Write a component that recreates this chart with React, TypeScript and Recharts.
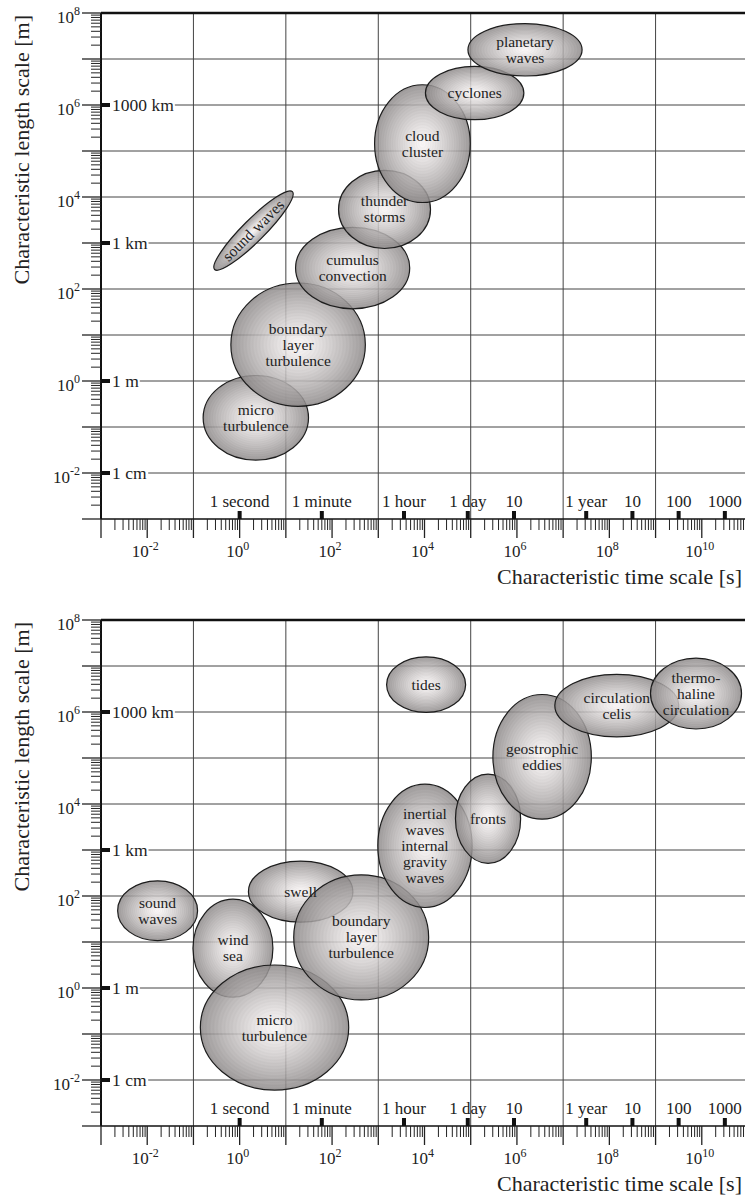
import React from "react";
import {
  ScatterChart,
  Scatter,
  XAxis,
  YAxis,
  CartesianGrid,
  ReferenceArea,
  ReferenceLine,
} from "recharts";

const FONT = "'Liberation Serif', 'Times New Roman', serif";
const INK = "#222";

// axis decades (log10 of seconds / metres)
const timeDecades = [-3, -2, -1, 0, 1, 2, 3, 4, 5, 6, 7, 8, 9, 10];
const timeDecadeLabels = [-2, 0, 2, 4, 6, 8, 10];
const timeGridDecades = [-1, 1, 3, 5, 7, 9];
const lengthDecades = [-3, -2, -1, 0, 1, 2, 3, 4, 5, 6, 7];
const lengthDecadeLabels = [-2, 0, 2, 4, 6, 8];
const lengthGridDecades = [-2, -1, 0, 1, 2, 3, 4, 5, 6, 7];
const minorSteps = [1, 2, 3, 4, 5, 6, 7, 8, 9];

// marks on the axes
const timeMarkLabels = ["1 second", "1 minute", "1 hour", "1 day", "10", "1 year", "10", "100", "1000"];
const timeMarkSeconds = [1, 60, 3600, 86400, 864000, 31557600, 315576000, 3155760000, 31557600000];
const lengthMarkLabels = ["1000 km", "1 km", "1 m", "1 cm"];
const lengthMarkMeters = [1e6, 1e3, 1, 1e-2];

// atmosphere (top): log10 ranges of time [s] and length [m]
const airNames = [
  "micro\nturbulence",
  "boundary\nlayer\nturbulence",
  "cumulus\nconvection",
  "thunder\nstorms",
  "cloud\ncluster",
  "cyclones",
  "planetary\nwaves",
  "sound waves",
];
const airTime = [[-0.79, 1.49], [-0.19, 2.72], [1.21, 3.68], [2.14, 4.13], [2.92, 4.99], [4.02, 6.15], [4.94, 7.41], [-0.89, 1.49]];
const airLength = [[-1.72, 0.12], [-0.55, 2.13], [1.57, 3.34], [2.88, 4.58], [3.88, 6.44], [5.68, 6.84], [6.63, 7.77], [3.03, 3.51]];
const airTilt = [0, 0, 0, 0, 0, 0, 0, -45];

// ocean (bottom)
const seaNames = [
  "sound\nwaves",
  "wind\nsea",
  "swell",
  "micro\nturbulence",
  "boundary\nlayer\nturbulence",
  "inertial\nwaves\ninternal\ngravity\nwaves",
  "fronts",
  "geostrophic\neddies",
  "tides",
  "circulation\ncelis",
  "thermo-\nhaline\ncirculation",
];
const seaTime = [[-2.64, -0.91], [-1.01, 0.72], [0.19, 2.45], [-0.85, 2.36], [1.17, 4.09], [2.99, 5.03], [4.67, 6.08], [5.48, 7.61], [3.18, 4.89], [6.82, 9.5], [8.89, 10.86]];
const seaLength = [[1.03, 2.33], [-0.2, 1.93], [1.43, 2.76], [-2.22, 0.5], [-0.26, 2.46], [1.75, 4.43], [2.71, 4.65], [3.67, 6.38], [5.99, 7.2], [5.46, 6.82], [5.63, 7.17]];
const seaTilt = [0, 0, 0, 0, 0, 0, 0, 0, 0, 0, 0];

const pow = (e: number) => Number((10 ** e).toPrecision(8));
const logTicks = (decades: number[], last: number) => [
  ...decades.flatMap((d) => minorSteps.map((k) => Number((k * 10 ** d).toPrecision(8)))),
  pow(last),
];
const timeTicks = logTicks(timeDecades, 11);
const lengthTicks = logTicks(lengthDecades, 8);

function decadeOf(v: number) {
  const e = Math.log10(v);
  const exp = Math.round(e);
  return { exp, major: Math.abs(e - exp) < 1e-6 };
}

function TimeTick(props: any) {
  const { x, y, payload } = props;
  const { exp, major } = decadeOf(payload.value);
  return (
    <g>
      <line x1={x} x2={x} y1={y} y2={y + (major ? 19 : 11)} stroke={INK} strokeWidth={major ? 1.3 : 1} />
      {major && timeDecadeLabels.includes(exp) && (
        <text x={x - 2} y={y + 38} textAnchor="middle" fontFamily={FONT} fontSize={17} fill={INK}>
          10<tspan dy={-7.5} fontSize={12}>{exp}</tspan>
        </text>
      )}
    </g>
  );
}

function LengthTick(props: any) {
  const { x, y, payload } = props;
  const { exp, major } = decadeOf(payload.value);
  return (
    <g>
      <line x1={x - (major ? 19 : 10)} x2={x} y1={y} y2={y} stroke={INK} strokeWidth={major ? 1.3 : 1} />
      {major && lengthDecadeLabels.includes(exp) && (
        <text x={x - 21} y={y + 9.5} textAnchor="end" fontFamily={FONT} fontSize={17} fill={INK}>
          10<tspan dy={-7.5} fontSize={12}>{exp}</tspan>
        </text>
      )}
    </g>
  );
}

function ringStops() {
  const stops = [];
  const n = 40;
  for (let i = 0; i <= n; i++) {
    const t = i / n;
    const ring = i % 2 === 0 ? 3 : -3;
    const l = Math.round(247 - 108 * Math.pow(t, 1.2) + (i > 0 && i < n ? ring : 0));
    stops.push(<stop key={i} offset={t} stopColor={`rgb(${l},${l - 4},${l - 4})`} />);
  }
  return stops;
}

function Blob(props: any) {
  const { x, y, width, height, tilt, gid } = props;
  if (x == null || y == null) return null;
  const cx = x + width / 2;
  const cy = y + height / 2;
  return (
    <g>
      <defs>
        <radialGradient id={gid}>{ringStops()}</radialGradient>
      </defs>
      <ellipse
        cx={cx}
        cy={cy}
        rx={width / 2}
        ry={height / 2}
        transform={tilt ? `rotate(${tilt} ${cx} ${cy})` : undefined}
        fill={`url(#${gid})`}
        fillOpacity={0.84}
        stroke="#1c1c1c"
        strokeWidth={1.2}
      />
    </g>
  );
}

function BlobLabel(props: any) {
  const { cx, cy, payload } = props;
  const lines: string[] = payload.name.split("\n");
  const lh = 16;
  const top = cy - ((lines.length - 1) * lh) / 2 + 5;
  return (
    <text
      textAnchor="middle"
      fontFamily={FONT}
      fontSize={15.5}
      fill={INK}
      transform={payload.tilt ? `rotate(${payload.tilt} ${cx} ${cy})` : undefined}
    >
      {lines.map((l, i) => (
        <tspan key={i} x={cx} y={top + i * lh}>
          {l}
        </tspan>
      ))}
    </text>
  );
}

function TimeMark(props: any) {
  const { cx, cy, payload } = props;
  return (
    <g>
      <rect x={cx - 2} y={cy - 8} width={4} height={8} fill="#111" />
      <text x={cx} y={cy - 12} textAnchor="middle" fontFamily={FONT} fontSize={17} fill={INK}>
        {payload.label}
      </text>
    </g>
  );
}

function LengthMark(props: any) {
  const { cx, cy, payload } = props;
  const w = payload.label.length * 8.8;
  return (
    <g>
      <rect x={cx + 9} y={cy - 7} width={w + 3} height={14} fill="#fff" />
      <text
        x={cx + 11}
        y={cy + 5.5}
        fontFamily={FONT}
        fontSize={17.5}
        fill={INK}
        stroke="#fff"
        strokeWidth={4}
        paintOrder="stroke"
      >
        {payload.label}
      </text>
      <rect x={cx} y={cy - 2} width={9} height={4} fill="#111" />
    </g>
  );
}

const xTitle = (p: any) => {
  const vb = p.viewBox;
  return (
    <text x={vb.x + vb.width - 6} y={vb.y + 65} textAnchor="end" fontFamily={FONT} fontSize={22} fill={INK}>
      Characteristic time scale [s]
    </text>
  );
};

const yTitle = (p: any) => {
  const vb = p.viewBox;
  const bx = 29;
  const by = vb.y + 2;
  return (
    <text x={bx} y={by} textAnchor="end" transform={`rotate(-90 ${bx} ${by})`} fontFamily={FONT} fontSize={22} fill={INK}>
      Characteristic length scale [m]
    </text>
  );
};

type PanelProps = {
  id: string;
  names: string[];
  time: number[][];
  length: number[][];
  tilt: number[];
};

function Panel({ id, names, time, length, tilt }: PanelProps) {
  const blobs = names.map((name, i) => ({
    name,
    x0: pow(time[i][0]),
    x1: pow(time[i][1]),
    y0: pow(length[i][0]),
    y1: pow(length[i][1]),
    x: pow((time[i][0] + time[i][1]) / 2),
    y: pow((length[i][0] + length[i][1]) / 2),
    tilt: tilt[i],
  }));
  const timeMarks = timeMarkLabels.map((label, i) => ({ label, x: timeMarkSeconds[i], y: 1e-3 }));
  const lengthMarks = lengthMarkLabels.map((label, i) => ({ label, x: 1e-3, y: lengthMarkMeters[i] }));

  return (
    <ScatterChart width={748} height={607} margin={{ top: 13, right: 0, bottom: 0, left: 0 }}>
      <CartesianGrid
        stroke="#444"
        strokeWidth={1}
        horizontalValues={lengthGridDecades.map(pow)}
        verticalValues={timeGridDecades.map(pow)}
      />
      <XAxis
        type="number"
        dataKey="x"
        scale="log"
        domain={[1e-3, 1e11]}
        allowDataOverflow
        ticks={timeTicks}
        interval={0}
        tickSize={0}
        tickMargin={0}
        tickLine={false}
        height={88}
        axisLine={{ stroke: "#111", strokeWidth: 1.6 }}
        tick={(p: any) => <TimeTick {...p} />}
        label={xTitle}
      />
      <YAxis
        type="number"
        dataKey="y"
        scale="log"
        domain={[1e-3, 1e8]}
        allowDataOverflow
        ticks={lengthTicks}
        interval={0}
        tickSize={0}
        tickMargin={0}
        tickLine={false}
        width={101}
        axisLine={{ stroke: "#111", strokeWidth: 2 }}
        tick={(p: any) => <LengthTick {...p} />}
        label={yTitle}
      />
      <ReferenceLine y={1e8} stroke="#111" strokeWidth={2.4} />
      {blobs.map((b, i) => (
        <ReferenceArea
          key={i}
          x1={b.x0}
          x2={b.x1}
          y1={b.y0}
          y2={b.y1}
          shape={(p: any) => <Blob {...p} tilt={b.tilt} gid={`${id}-grad-${i}`} />}
        />
      ))}
      <Scatter data={blobs} shape={(p: any) => <BlobLabel {...p} />} isAnimationActive={false} />
      <Scatter data={timeMarks} shape={(p: any) => <TimeMark {...p} />} isAnimationActive={false} />
      <Scatter data={lengthMarks} shape={(p: any) => <LengthMark {...p} />} isAnimationActive={false} />
    </ScatterChart>
  );
}

export default function App() {
  return (
    <div
      style={{
        position: "absolute",
        left: 0,
        top: 0,
        width: 745,
        height: 1198,
        overflow: "hidden",
        background: "#fff",
      }}
    >
      <Panel id="air" names={airNames} time={airTime} length={airLength} tilt={airTilt} />
      <Panel id="sea" names={seaNames} time={seaTime} length={seaLength} tilt={seaTilt} />
    </div>
  );
}
